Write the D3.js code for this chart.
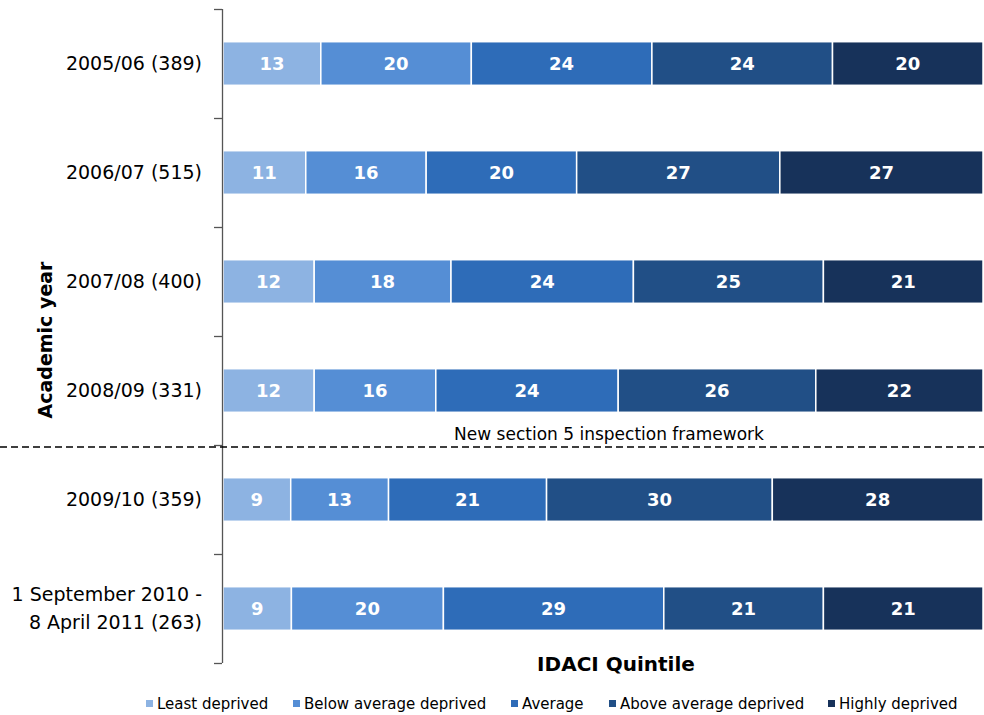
<!DOCTYPE html>
<html>
<head>
<meta charset="utf-8">
<script src="https://cdn.jsdelivr.net/npm/d3@7"></script>
<style>
  body { margin: 0; background: #fff; }
  svg text { font-family: "DejaVu Sans", Verdana, sans-serif; }
</style>
</head>
<body>
<div id="chart"></div>
<script>
var years = ["2005/06 (389)", "2006/07 (515)", "2007/08 (400)", "2008/09 (331)",
             "2009/10 (359)", "1 September 2010 -|8 April 2011 (263)"];
var quintiles = ["Least deprived", "Below average deprived", "Average",
                 "Above average deprived", "Highly deprived"];
var leastDeprived  = [13, 11, 12, 12, 9, 9];
var belowAverage   = [20, 16, 18, 16, 13, 20];
var average        = [24, 20, 24, 24, 21, 29];
var aboveAverage   = [24, 27, 25, 26, 30, 21];
var highlyDeprived = [20, 27, 21, 22, 28, 21];
var colours = ["#8db3e2", "#558ed5", "#2e6cb8", "#214f86", "#17325a"];

var width = 984, height = 715;
var margin = {top: 9, right: 1, bottom: 52, left: 222};

var rows = years.map(function(y, i) {
  return {year: y, "Least deprived": leastDeprived[i], "Below average deprived": belowAverage[i],
          "Average": average[i], "Above average deprived": aboveAverage[i],
          "Highly deprived": highlyDeprived[i]};
});

var svg = d3.select("#chart").append("svg")
  .attr("width", width).attr("height", height);

var x = d3.scaleLinear().domain([0, 1]).range([margin.left + 1, width - margin.right]);
var y = d3.scaleBand().domain(years).range([margin.top, height - margin.bottom])
  .paddingInner(0.6).paddingOuter(0.3);

var stack = d3.stack().keys(quintiles).offset(d3.stackOffsetExpand);
var series = stack(rows);

var g = svg.selectAll("g.series").data(series).enter().append("g")
  .attr("fill", function(d, i) { return colours[i]; });

g.selectAll("rect").data(function(d) { return d; }).enter().append("rect")
  .attr("x", function(d) { return x(d[0]); })
  .attr("y", function(d) { return y(d.data.year); })
  .attr("width", function(d) { return x(d[1]) - x(d[0]); })
  .attr("height", y.bandwidth())
  .attr("stroke", "#fff").attr("stroke-width", 1.5);

g.selectAll("text").data(function(d, i) { return d.map(function(v) { return {v: v, key: series[i].key}; }); })
  .enter().append("text")
  .attr("x", function(d) { return (x(d.v[0]) + x(d.v[1])) / 2; })
  .attr("y", function(d) { return y(d.v.data.year) + y.bandwidth() / 2; })
  .attr("dy", "0.36em")
  .attr("text-anchor", "middle")
  .attr("fill", "#fff")
  .style("font-size", "18px").style("font-weight", "bold")
  .text(function(d) { return d.v.data[d.key]; });

// y axis: line with ticks between categories
var step = y.step();
var axisG = svg.append("g").attr("stroke", "#555").attr("stroke-width", 1.3);
axisG.append("line").attr("x1", margin.left + 0.5).attr("x2", margin.left + 0.5)
  .attr("y1", margin.top).attr("y2", height - margin.bottom);
d3.range(years.length + 1).forEach(function(i) {
  var ty = Math.round(margin.top + i * step) + 0.5;
  axisG.append("line").attr("x1", margin.left - 8).attr("x2", margin.left)
    .attr("y1", ty).attr("y2", ty);
});

// category labels
years.forEach(function(yr) {
  var lines = yr.split("|");
  var cy = y(yr) + y.bandwidth() / 2;
  var t = svg.append("text").attr("text-anchor", "end").attr("fill", "#000")
    .style("font-size", "19px");
  lines.forEach(function(l, j) {
    t.append("tspan").attr("x", 202)
      .attr("y", cy + (j - (lines.length - 1) / 2) * 28)
      .attr("dy", "0.36em").text(l);
  });
});

// dashed divider for new inspection framework
var divY = (y(years[3]) + y.bandwidth() + y(years[4])) / 2 + 2;
svg.append("line").attr("x1", 0).attr("x2", width)
  .attr("y1", divY).attr("y2", divY)
  .attr("stroke", "#000").attr("stroke-width", 1.5).attr("stroke-dasharray", "7,4");
svg.append("text").attr("x", 609).attr("y", divY - 7)
  .attr("text-anchor", "middle").style("font-size", "17px").attr("fill", "#000")
  .text("New section 5 inspection framework");

// axis titles
svg.append("text").attr("transform", "translate(52,340) rotate(-90)")
  .attr("text-anchor", "middle").style("font-size", "19px").style("font-weight", "bold")
  .text("Academic year");
svg.append("text").attr("x", 616).attr("y", 671).attr("text-anchor", "middle")
  .style("font-size", "20px").style("font-weight", "bold").text("IDACI Quintile");

// legend
var legendX = [157, 304, 522, 620, 839];
var lg = svg.selectAll("g.legend").data(quintiles).enter().append("g")
  .attr("transform", function(d, i) { return "translate(" + legendX[i] + ",704)"; });
lg.append("rect").attr("x", -11).attr("y", -4).attr("width", 7).attr("height", 7)
  .attr("fill", function(d, i) { return colours[i]; });
lg.append("text").attr("x", 0).attr("dy", "0.36em").style("font-size", "15px")
  .text(function(d) { return d; });
</script>
</body>
</html>
